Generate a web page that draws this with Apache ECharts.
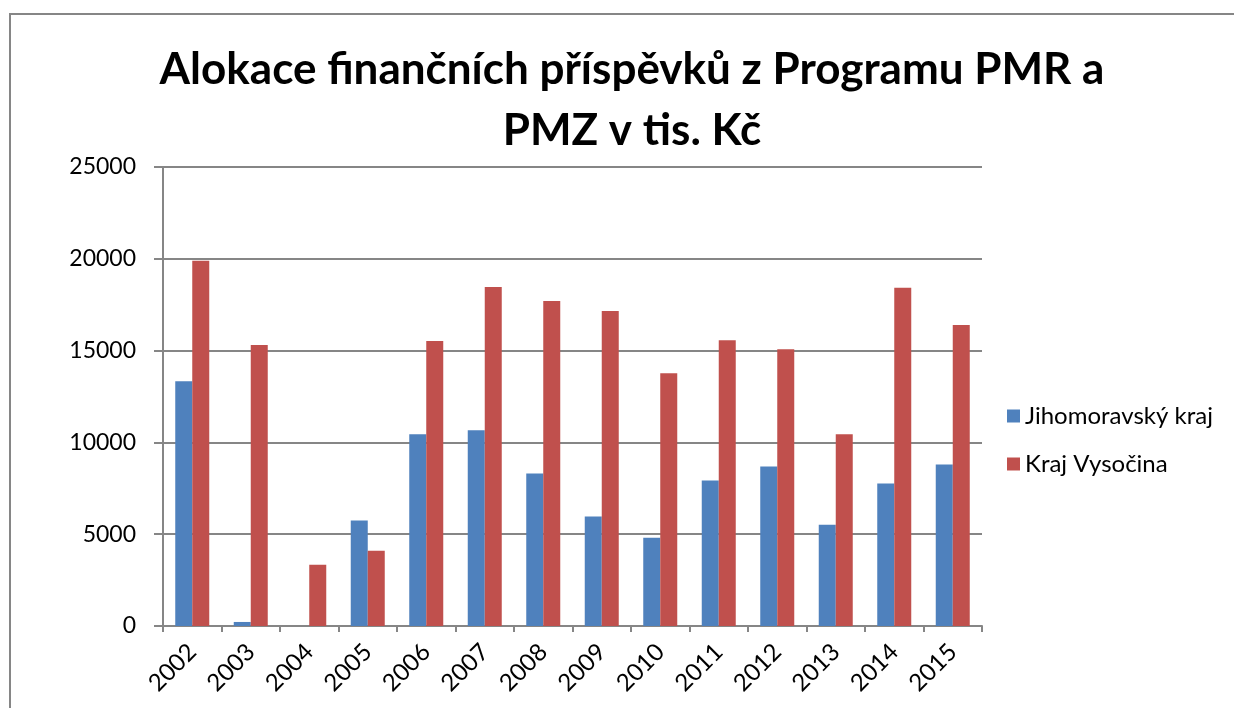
<!DOCTYPE html>
<html>
<head>
<meta charset="utf-8">
<script src="https://cdn.jsdelivr.net/npm/echarts@6/dist/echarts.min.js"></script>
<style>
	html, body { margin: 0; padding: 0; background: #fff; overflow: hidden; }
	#frame {
		position: absolute; left: 9px; top: 13px;
		width: 1300px; height: 760px;
		border: 2px solid #868686;
		box-sizing: border-box;
	}
	#chart { position: absolute; left: 0; top: 0; width: 1234px; height: 708px; }
</style>
</head>
<body>
<div id="frame"></div>
<div id="chart"></div>
<script>
	// roky
	var years = ['2002','2003','2004','2005','2006','2007','2008','2009','2010','2011','2012','2013','2014','2015'];
	var seriesNames = ['Jihomoravský kraj', 'Kraj Vysočina'];
	// hodnoty v tis. Kč
	var jihomoravsky = [13330, 220, 0, 5740, 10440, 10660, 8310, 5960, 4810, 7920, 8690, 5520, 7760, 8800];
	var vysocina = [19890, 15300, 3330, 4100, 15520, 18470, 17700, 17160, 13770, 15570, 15080, 10440, 18420, 16390];
	var yTicks = { min: 0, max: 25000, interval: 5000 };

	var font = 'Lato, "Open Sans", sans-serif';
	var chart = echarts.init(document.getElementById('chart'));
	var option = {
		animation: false,
		title: {
			text: 'Alokace finančních příspěvků z Programu PMR a\nPMZ v tis. Kč',
			left: 627,
			top: 34,
			textAlign: 'center',
			textStyle: {
				fontFamily: font,
				fontSize: 44,
				fontWeight: 'bold',
				color: '#000',
				lineHeight: 61
			}
		},
		legend: {
			data: seriesNames,
			orient: 'vertical',
			left: 1002,
			top: 399,
			itemWidth: 13,
			itemHeight: 13,
			itemGap: 24,
			icon: 'rect',
			textStyle: { fontFamily: font, fontSize: 24, color: '#000' }
		},
		grid: {
			left: 163,
			right: 252,
			top: 167,
			bottom: 82
		},
		xAxis: {
			type: 'category',
			data: years,
			axisLine: { lineStyle: { color: '#868686', width: 2 } },
			axisTick: { show: true, length: 6, lineStyle: { color: '#868686', width: 2 } },
			axisLabel: {
				rotate: 45,
				interval: 0,
				margin: 22,
				fontFamily: font,
				fontSize: 24,
				color: '#000'
			}
		},
		yAxis: {
			type: 'value',
			min: yTicks.min,
			max: yTicks.max,
			interval: yTicks.interval,
			axisLine: { show: true, lineStyle: { color: '#868686', width: 2 } },
			axisTick: { show: true, length: 9, lineStyle: { color: '#868686', width: 2 } },
			splitLine: { lineStyle: { color: '#868686', width: 2 } },
			axisLabel: {
				margin: 27,
				fontFamily: font,
				fontSize: 23,
				color: '#000',
				formatter: function (v) { return String(v); }
			}
		},
		series: [{
			name: seriesNames[0],
			type: 'bar',
			barWidth: 17,
			barGap: '0%',
			color: '#4f81bd',
			data: jihomoravsky
		}, {
			name: seriesNames[1],
			type: 'bar',
			barWidth: 17,
			barGap: '0%',
			color: '#c0504d',
			data: vysocina
		}]
	};
	chart.setOption(option);
</script>
</body>
</html>
